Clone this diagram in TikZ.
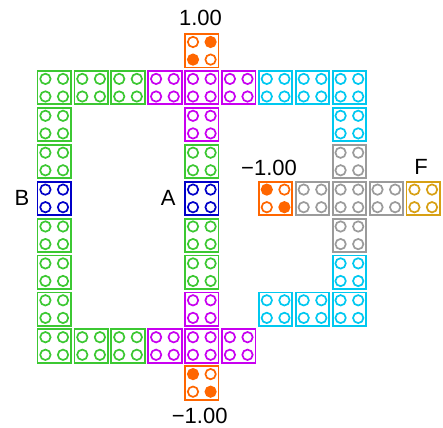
\documentclass[tikz,border=0pt]{standalone}
\usepackage{fontspec}
\setmainfont{Liberation Sans}
\usetikzlibrary{calc}
\definecolor{cgreen}{RGB}{60,200,50}
\definecolor{cpurple}{RGB}{200,0,240}
\definecolor{ccyan}{RGB}{0,200,240}
\definecolor{cgray}{RGB}{155,155,155}
\definecolor{corange}{RGB}{255,102,0}
\definecolor{cblue}{RGB}{0,0,200}
\definecolor{cgold}{RGB}{215,160,20}
\tikzset{
  brickbox/.style={draw, line width=1.8pt, minimum size=33.4pt, inner sep=0pt},
  stud/.style={line width=1.7pt},
  lab/.style={inner sep=0pt, font=\fontsize{22}{26}\selectfont}
}
% #1 col, #2 row, #3 colour, #4..#7 fill (TL,TR,BL,BR): white or colour
\newcommand\brick[7]{%
  \node[brickbox, draw=#3] (b#1-#2) at ({54.2+36.9*#1},{-50.8-36.9*#2}) {};
  \draw[stud, draw=#3, fill=#4] ($(b#1-#2)+(-8.8,8.8)$) circle[radius=5.2pt];
  \draw[stud, draw=#3, fill=#5] ($(b#1-#2)+(8.8,8.8)$) circle[radius=5.2pt];
  \draw[stud, draw=#3, fill=#6] ($(b#1-#2)+(-8.8,-8.8)$) circle[radius=5.2pt];
  \draw[stud, draw=#3, fill=#7] ($(b#1-#2)+(8.8,-8.8)$) circle[radius=5.2pt];
}
\newcommand\pbrick[3]{\brick{#1}{#2}{#3}{white}{white}{white}{white}}
\begin{document}
\begin{tikzpicture}[x=1pt,y=1pt]
\useasboundingbox (0,0) rectangle (443,-427);
% row 0
\brick{4}{0}{corange}{white}{corange}{corange}{white}
% row 1
\foreach \c in {0,1,2} {\pbrick{\c}{1}{cgreen}}
\foreach \c in {3,4,5} {\pbrick{\c}{1}{cpurple}}
\foreach \c in {6,7,8} {\pbrick{\c}{1}{ccyan}}
% row 2
\pbrick{0}{2}{cgreen}
\pbrick{4}{2}{cpurple}
\pbrick{8}{2}{ccyan}
% row 3
\pbrick{0}{3}{cgreen}
\pbrick{4}{3}{cgreen}
\pbrick{8}{3}{cgray}
% row 4
\pbrick{0}{4}{cblue}
\pbrick{4}{4}{cblue}
\brick{6}{4}{corange}{corange}{white}{white}{corange}
\foreach \c in {7,8,9} {\pbrick{\c}{4}{cgray}}
\pbrick{10}{4}{cgold}
% row 5
\pbrick{0}{5}{cgreen}
\pbrick{4}{5}{cgreen}
\pbrick{8}{5}{cgray}
% row 6
\pbrick{0}{6}{cgreen}
\pbrick{4}{6}{cgreen}
\pbrick{8}{6}{ccyan}
% row 7
\pbrick{0}{7}{cgreen}
\pbrick{4}{7}{cpurple}
\foreach \c in {6,7,8} {\pbrick{\c}{7}{ccyan}}
% row 8
\foreach \c in {0,1,2} {\pbrick{\c}{8}{cgreen}}
\foreach \c in {3,4,5} {\pbrick{\c}{8}{cpurple}}
% row 9
\brick{4}{9}{corange}{corange}{white}{white}{corange}
% labels
\node[lab] (ltop) at (200.5,-18) {1.00};
\node[lab] (lbot) at (199.7,-416) {−1.00};
\node[lab] (lmid) at (269,-167.5) {−1.00};
\node[lab] (lB) at (22,-198) {B};
\node[lab] (lA) at (168.3,-198) {A};
\node[lab] (lF) at (421,-167) {F};
\end{tikzpicture}
\end{document}
